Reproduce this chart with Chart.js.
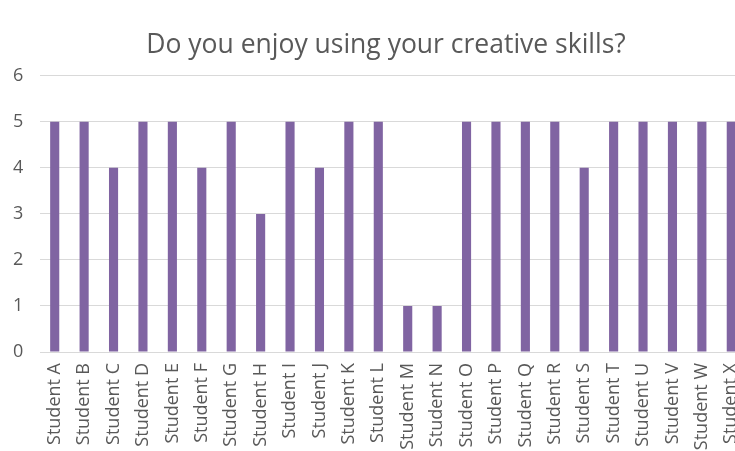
<!DOCTYPE html>
<html>
<head>
<meta charset="utf-8">
<script src="https://cdn.jsdelivr.net/npm/chart.js@4"></script>
<style>
  html, body { margin: 0; padding: 0; background: #fff; overflow: hidden; }
  #wrap { position: absolute; left: 0; top: 0; width: 772px; height: 451px; }
</style>
</head>
<body>
<div id="wrap"><canvas id="chart" width="772" height="451"></canvas></div>
<script>
// Survey answers per student
const students = ["Student A", "Student B", "Student C", "Student D", "Student E", "Student F",
  "Student G", "Student H", "Student I", "Student J", "Student K", "Student L",
  "Student M", "Student N", "Student O", "Student P", "Student Q", "Student R",
  "Student S", "Student T", "Student U", "Student V", "Student W", "Student X"]
const scores = [5, 5, 4, 5, 5, 4, 5, 3, 5, 4, 5, 5, 1, 1, 5, 5, 5, 5, 4, 5, 5, 5, 5, 5]
const yTicks = [0, 1, 2, 3, 4, 5, 6]

const textColor = "#595959"
const fontFamily = "'Open Sans', Lato, sans-serif"

new Chart(document.getElementById("chart"), {
  type: "bar",
  data: {
    labels: students,
    datasets: [{
      data: scores,
      backgroundColor: "#8064A2",
      barPercentage: 0.31,
      categoryPercentage: 1,
    }],
  },
  options: {
    responsive: false,
    animation: false,
    // symmetric side padding keeps the title centred over the full chart
    layout: { padding: { left: 26, right: 26, top: 30, bottom: 0 } },
    plugins: {
      legend: { display: false },
      tooltip: { enabled: false },
      title: {
        display: true,
        text: "Do you enjoy using your creative skills?",
        color: textColor,
        font: { family: fontFamily, size: 26.5, weight: "normal" },
        padding: { top: 0, bottom: 14 },
      },
    },
    scales: {
      x: {
        grid: { display: false, drawTicks: false },
        border: { color: "#d9d9d9" },
        ticks: {
          color: textColor,
          font: { family: fontFamily, size: 18 },
          minRotation: 90,
          maxRotation: 90,
          autoSkip: false,
          padding: 11,
        },
        afterFit: (scale) => { scale.height = 99 },
      },
      y: {
        min: 0,
        max: 6,
        afterBuildTicks: (scale) => { scale.ticks = yTicks.map(v => ({ value: v })) },
        grid: { color: "#d9d9d9", drawTicks: false },
        border: { display: false },
        // mirrored labels aren't clipped to the narrow axis box, so pull them back left
        ticks: {
          color: textColor,
          font: { family: fontFamily, size: 18 },
          mirror: true,
          padding: -27,
        },
        afterFit: (scale) => { scale.width = 14 },
      },
    },
  },
})
</script>
</body>
</html>
